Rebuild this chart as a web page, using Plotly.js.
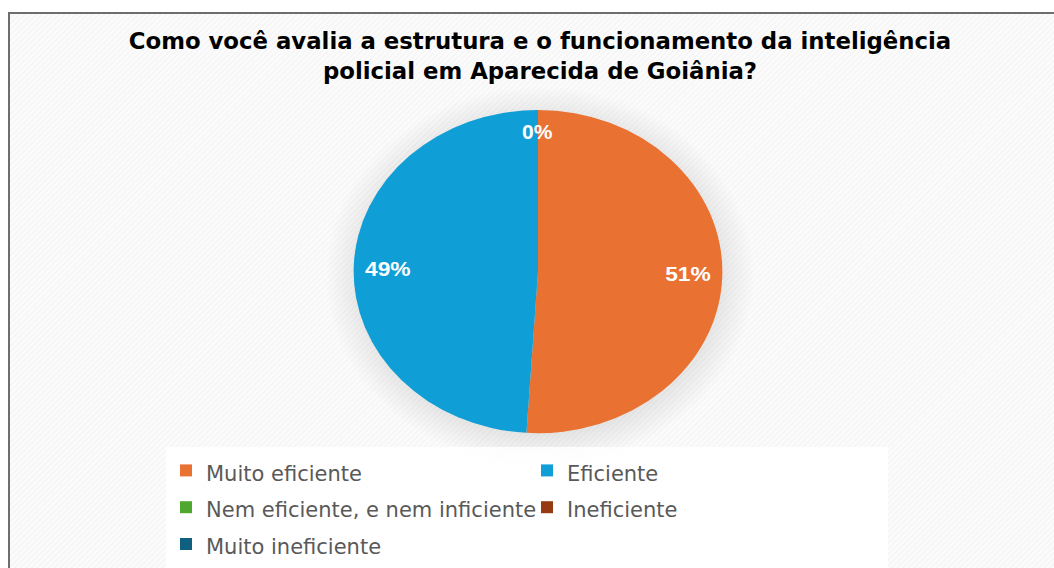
<!DOCTYPE html>
<html>
<head>
<meta charset="utf-8">
<script src="https://cdn.plot.ly/plotly-3.0.1.min.js"></script>
<style>
  html, body { margin: 0; padding: 0; background: #ffffff; width: 1054px; height: 568px; overflow: hidden; }
  #frame {
    position: absolute; left: 8px; top: 12px; width: 1100px; height: 600px;
    border-left: 2px solid #6e6e6e; border-top: 2px solid #6e6e6e;
    background:
      radial-gradient(ellipse 215px 190px at 530px 262px, rgba(0,0,0,0.16) 0%, rgba(0,0,0,0.10) 80%, rgba(0,0,0,0) 100%),
      repeating-linear-gradient(135deg, #fbfbfb 0px, #fbfbfb 2px, #f3f3f3 3px, #fbfbfb 4px);
  }
  #chart { position: absolute; left: 0; top: 0; width: 1054px; height: 568px; }
</style>
</head>
<body>
<div id="frame"></div>
<div id="chart"></div>
<script>
const categories = ["Muito eficiente", "Eficiente", "Nem eficiente, e nem inficiente", "Ineficiente", "Muito ineficiente"];
const values = [51, 49, 0, 0, 0];
const colors = ["#E97132", "#0F9ED5", "#4EA72E", "#953A12", "#0E5F80"];
const titleText = "Como você avalia a estrutura e o funcionamento da inteligência<br>policial em Aparecida de Goiânia?";

const W = 1054, H = 568;
const cxPx = 538, cyPx = 274, ry = 163, rx = 186;
const labelRadiusFrac = 0.807;
const total = values.reduce((a, b) => a + b, 0);

const legendLabels = categories.map(c => '<span style="font-size:21px">' + c + '</span>');

const trace = {
  type: "pie",
  labels: legendLabels,
  values: values,
  sort: false,
  direction: "clockwise",
  rotation: 0,
  marker: { colors: colors, line: { width: 0 } },
  textinfo: "percent",
  texttemplate: "%{percent:.0%}",
  textposition: "inside",
  insidetextorientation: "horizontal",
  textfont: { family: "Liberation Sans, Arial, sans-serif", size: 20, color: "#ffffff", weight: "bold" },
  hoverinfo: "percent",
  domain: { x: [(cxPx - ry) / W, (cxPx + ry) / W], y: [(H - cyPx - ry) / H, (H - cyPx + ry) / H] },
  showlegend: true
};

// label for the zero-valued categories that Plotly does not draw as slices
const zeroPct = Math.round(100 * values[2] / total) + "%";

const layout = {
  width: W, height: H,
  margin: { l: 0, r: 0, t: 0, b: 0 },
  paper_bgcolor: "rgba(0,0,0,0)",
  plot_bgcolor: "rgba(0,0,0,0)",
  title: {
    text: "<b>" + titleText + "</b>",
    x: 540 / W, xanchor: "center",
    y: 1 - 49 / H, yanchor: "top", yref: "container",
    font: { family: "DejaVu Sans, sans-serif", size: 22.8, color: "#000000" }
  },
  legend: {
    orientation: "h",
    x: 166 / W, xanchor: "left",
    y: 1 - 451 / H, yanchor: "top",
    entrywidth: 316,
    bgcolor: "rgba(255,255,255,0.85)",
    font: { family: "DejaVu Sans, sans-serif", size: 26, color: "#595959" },
    traceorder: "normal"
  },
  annotations: [{
    text: "<b>" + zeroPct + "</b>",
    xref: "paper", yref: "paper",
    x: cxPx / W, y: 1 - 133 / H,
    xanchor: "center", yanchor: "middle",
    showarrow: false,
    font: { family: "Liberation Sans, Arial, sans-serif", size: 21, color: "#ffffff" }
  }]
};

Plotly.newPlot("chart", [trace], layout, { displayModeBar: false, staticPlot: true }).then(function (gd) {
  const g = gd.querySelector(".pielayer .trace");
  if (g) {
    g.querySelectorAll(".slicetext").forEach(function (st) {
      const r = st.getBoundingClientRect();
      const mx = r.left + r.width / 2;
      const sign = mx >= cxPx ? 1 : -1;
      const dx = sign * labelRadiusFrac * ry - (mx - cxPx);
      const prev = st.getAttribute("transform") || "";
      st.setAttribute("transform", "translate(" + dx + ",0) " + prev);
    });
    const s = rx / ry;
    g.setAttribute("transform", "translate(" + cxPx + ",0) scale(" + s + ",1) translate(" + (-cxPx) + ",0)");
  }
});
</script>
</body>
</html>
